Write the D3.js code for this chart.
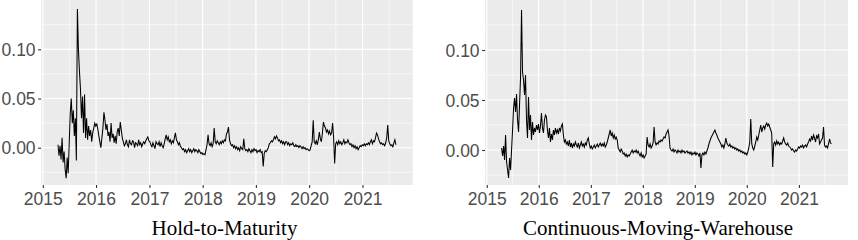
<!DOCTYPE html>
<html><head><meta charset="utf-8">
<script src="https://cdn.jsdelivr.net/npm/d3@7"></script>
<style>body{margin:0;background:#fff}svg{display:block}</style>
</head><body>
<svg id="chart" width="858" height="240"></svg>
<script>
// ---- data ----
const startDate = "2015-04-15";   // first observation
const stepDays = 7;               // weekly observations
const yearTicks = [2015, 2016, 2017, 2018, 2019, 2020, 2021];
const yTicks = [0, 0.05, 0.10];
const yTickLabels = ["0.00", "0.05", "0.10"];
const yMinorTicks = [-0.025, 0.025, 0.075, 0.125];
const panelTitles = ["Hold-to-Maturity", "Continuous-Moving-Warehouse"];

const holdToMaturity = [
0.003,-0.008,0.002,-0.012,0.010,-0.015,-0.004,-0.022,-0.031,-0.010,
-0.026,0.005,0.035,0.050,0.025,0.038,0.012,0.030,-0.013,0.141,
0.100,0.078,0.060,0.030,0.052,0.015,0.054,0.010,0.030,0.008,
0.022,0.012,0.018,0.006,0.015,0.020,0.025,0.022,0.024,0.019,
0.012,0.006,0.000,0.010,0.020,0.036,0.028,0.018,0.024,0.012,
0.016,0.006,0.025,0.010,0.014,0.005,0.012,0.004,0.016,0.020,
0.012,0.026,0.018,0.010,0.006,0.002,0.004,0.008,0.003,0.001,
0.008,0.004,0.003,0.007,0.006,0.000,0.005,0.004,0.002,0.008,
0.003,0.005,0.001,0.004,0.006,0.004,0.007,0.009,0.011,0.007,
0.006,0.003,0.001,0.005,0.002,-0.001,0.006,0.004,0.003,0.006,
0.001,0.005,0.002,0.000,0.004,0.009,0.013,0.008,0.011,0.006,
0.008,0.004,0.007,0.005,0.010,0.015,0.008,0.006,0.003,0.005,
0.001,0.000,-0.002,-0.001,-0.004,-0.002,-0.005,-0.003,-0.001,-0.004,
-0.002,-0.005,-0.003,-0.001,-0.004,-0.002,-0.003,-0.005,-0.002,-0.004,
-0.006,-0.005,-0.007,-0.006,-0.007,-0.002,0.003,0.013,0.004,0.002,
0.005,0.001,0.004,0.020,0.006,0.004,0.007,0.005,0.003,0.006,
0.004,0.007,0.005,0.008,0.007,0.014,0.016,0.021,0.008,0.004,
0.002,0.003,0.000,0.002,-0.001,0.001,-0.002,0.000,-0.003,0.001,
-0.001,-0.002,0.009,-0.001,-0.003,-0.002,-0.004,-0.001,-0.003,-0.005,
-0.002,-0.004,-0.001,-0.003,-0.002,-0.005,-0.003,-0.004,-0.002,-0.005,
-0.004,-0.019,-0.006,-0.003,-0.004,-0.002,0.000,0.004,0.005,0.007,
0.006,0.008,0.011,0.009,0.012,0.010,0.007,0.008,0.005,0.007,
0.004,0.006,0.003,0.006,0.006,0.003,0.005,0.002,0.004,0.003,
0.005,0.002,0.001,0.003,0.001,0.002,0.000,0.002,0.001,-0.001,
0.001,-0.001,0.000,-0.002,-0.001,-0.002,-0.003,-0.002,0.002,0.006,
0.028,0.006,0.004,0.007,0.003,0.008,0.016,0.009,0.006,0.015,
0.026,0.022,0.020,0.016,0.018,0.014,0.017,0.013,0.015,0.025,
0.010,-0.016,0.004,0.006,0.003,0.007,0.004,0.006,0.003,0.005,
0.008,0.004,0.006,0.005,0.008,0.005,0.003,0.004,0.001,0.003,
0.000,0.002,-0.001,0.001,-0.002,0.000,0.002,0.001,0.003,0.002,
0.004,0.002,0.004,0.003,0.005,0.003,0.006,0.008,0.004,0.007,
0.006,0.010,0.015,0.013,0.009,0.006,0.004,0.005,0.003,0.004,
0.002,0.005,0.010,0.023,0.007,0.004,0.002,0.003,0.001,0.005,0.008,0.003
];

const continuousMovingWarehouse = [
0.002,-0.006,0.004,-0.010,0.015,-0.012,-0.020,-0.028,-0.008,-0.020,
0.000,0.020,0.042,0.052,0.038,0.056,0.030,0.018,0.045,0.072,
0.140,0.078,0.070,0.055,0.075,0.030,0.012,0.053,0.020,0.035,
0.010,0.028,0.015,0.022,0.018,0.025,0.020,0.026,0.017,0.024,
0.037,0.022,0.017,0.030,0.035,0.033,0.020,0.012,0.022,0.008,
0.016,0.010,0.020,0.015,0.022,0.017,0.020,0.016,0.022,0.019,
0.024,0.026,0.015,0.008,0.010,0.006,0.008,0.004,0.010,0.003,
0.007,0.002,0.006,0.004,0.008,0.005,0.003,0.007,0.002,0.005,
0.008,0.004,0.006,0.003,0.007,0.005,0.010,0.012,0.006,0.002,
0.004,0.001,0.003,0.005,0.002,0.004,0.006,0.003,0.005,0.007,
0.004,0.006,0.004,0.007,0.003,0.005,0.008,0.012,0.016,0.020,
0.014,0.017,0.012,0.015,0.011,0.013,0.010,0.002,0.000,-0.002,
0.001,-0.001,-0.004,-0.003,-0.006,-0.004,-0.007,-0.005,-0.006,-0.004,
-0.002,0.000,-0.003,-0.001,-0.002,0.000,-0.003,-0.001,-0.004,-0.006,
-0.003,-0.007,-0.005,-0.008,-0.006,-0.004,0.013,0.005,0.003,0.006,
0.002,0.004,0.007,0.023,0.008,0.005,0.007,0.006,0.009,0.008,
0.010,0.009,0.011,0.013,0.012,0.016,0.018,0.020,0.014,0.002,
0.000,-0.001,0.001,-0.002,0.000,-0.001,-0.003,0.000,-0.002,-0.001,
-0.003,0.000,-0.002,-0.001,-0.003,-0.002,-0.001,-0.003,-0.002,-0.004,
-0.002,-0.005,-0.003,-0.004,-0.002,-0.005,-0.003,-0.004,-0.006,-0.003,
-0.018,-0.005,-0.003,-0.005,-0.002,-0.004,-0.001,0.002,0.006,0.009,
0.012,0.014,0.016,0.018,0.020,0.017,0.015,0.012,0.010,0.008,
0.006,0.003,0.005,0.002,0.006,0.012,0.007,0.005,0.004,0.006,
0.003,0.004,0.002,0.003,0.001,0.002,0.000,0.001,-0.001,0.000,
-0.002,-0.001,-0.003,-0.002,-0.004,-0.003,-0.005,-0.002,0.002,0.008,
0.031,0.006,0.002,0.000,0.004,0.008,0.013,0.010,0.015,0.020,
0.025,0.018,0.022,0.024,0.021,0.025,0.027,0.024,0.026,0.023,
0.020,0.017,-0.017,0.006,0.008,0.005,0.009,0.006,0.008,0.005,
0.007,0.006,0.009,0.012,0.008,0.006,0.005,0.007,0.004,0.003,
0.002,0.000,0.001,-0.001,-0.002,0.000,-0.001,0.001,0.003,0.002,
0.004,0.003,0.005,0.002,0.004,0.005,0.003,0.006,0.008,0.011,
0.009,0.014,0.010,0.015,0.012,0.008,0.014,0.012,0.016,0.006,
0.008,0.010,0.012,0.023,0.005,0.003,0.004,0.002,0.006,0.011,0.007,0.006
];

// ---- drawing ----
const parseDate = d3.timeParse("%Y-%m-%d");
const t0 = parseDate(startDate);
const dates = holdToMaturity.map((_, i) => d3.timeDay.offset(t0, i * stepDays));

const svg = d3.select("#chart");
const panels = [
  {values: holdToMaturity, title: panelTitles[0], x0: 41.1, x1: 412.8, yDom: [-0.0379, 0.1501], titleX: 224.5},
  {values: continuousMovingWarehouse, title: panelTitles[1], x0: 485.1, x1: 848, yDom: [-0.035, 0.150], titleX: 658}
];
const plotTop = 0, plotBottom = 185;

// ggplot-style 5% expansion of the date extent
const ext = d3.extent(dates);
const span = ext[1] - ext[0];
const xDomain = [new Date(+ext[0] - 0.05 * span), new Date(+ext[1] + 0.05 * span)];

panels.forEach(p => {
  const x = d3.scaleTime().domain(xDomain).range([p.x0, p.x1]);
  const y = d3.scaleLinear().domain(p.yDom).range([plotBottom, plotTop]);
  const g = svg.append("g");

  g.append("rect").attr("x", p.x0).attr("y", plotTop)
    .attr("width", p.x1 - p.x0).attr("height", plotBottom - plotTop).attr("fill", "#EBEBEB");

  const majorX = yearTicks.map(yr => new Date(yr, 0, 1));
  const minorX = yearTicks.map(yr => new Date(yr, 6, 2)).filter(d => d >= xDomain[0] && d <= xDomain[1]);

  g.selectAll(".mny").data(yMinorTicks).join("line")
    .attr("x1", p.x0).attr("x2", p.x1).attr("y1", d => y(d)).attr("y2", d => y(d))
    .attr("stroke", "#fff").attr("stroke-width", 0.6);
  g.selectAll(".mnx").data(minorX).join("line")
    .attr("y1", plotTop).attr("y2", plotBottom).attr("x1", d => x(d)).attr("x2", d => x(d))
    .attr("stroke", "#fff").attr("stroke-width", 0.6);
  g.selectAll(".mjy").data(yTicks).join("line")
    .attr("x1", p.x0).attr("x2", p.x1).attr("y1", d => y(d)).attr("y2", d => y(d))
    .attr("stroke", "#fff").attr("stroke-width", 1.15);
  g.selectAll(".mjx").data(majorX).join("line")
    .attr("y1", plotTop).attr("y2", plotBottom).attr("x1", d => x(d)).attr("x2", d => x(d))
    .attr("stroke", "#fff").attr("stroke-width", 1.15);

  const line = d3.line().x((d, i) => x(dates[i])).y(d => y(d));
  g.append("path").datum(p.values).attr("d", line)
    .attr("fill", "none").attr("stroke", "#000").attr("stroke-width", 1.05)
    .attr("stroke-linejoin", "miter");

  const yAxis = d3.axisLeft(y).tickValues(yTicks).tickFormat((d, i) => yTickLabels[i])
    .tickSize(3).tickPadding(2.5);
  const ya = g.append("g").attr("transform", `translate(${p.x0},0)`).call(yAxis);
  ya.select(".domain").remove();
  ya.selectAll("line").attr("stroke", "#333").attr("stroke-width", 1.1);
  ya.selectAll("text").attr("fill", "#4D4D4D").style("font-family", "'Liberation Sans', Arial, sans-serif")
    .style("font-size", "17.5px").attr("dy", "0.35em");

  const xAxis = d3.axisBottom(x).tickValues(majorX).tickFormat(d3.timeFormat("%Y"))
    .tickSize(3).tickPadding(2);
  const xa = g.append("g").attr("transform", `translate(0,${plotBottom})`).call(xAxis);
  xa.select(".domain").remove();
  xa.selectAll("line").attr("stroke", "#333").attr("stroke-width", 1.1);
  xa.selectAll("text").attr("fill", "#4D4D4D").style("font-family", "'Liberation Sans', Arial, sans-serif")
    .style("font-size", "17.5px").attr("dy", "0.85em");

  svg.append("text").attr("x", p.titleX).attr("y", 234.5).attr("text-anchor", "middle")
    .style("font-family", "'Liberation Serif', 'Times New Roman', serif").style("font-size", "21px")
    .attr("fill", "#000").text(p.title);
});
</script>
</body></html>
